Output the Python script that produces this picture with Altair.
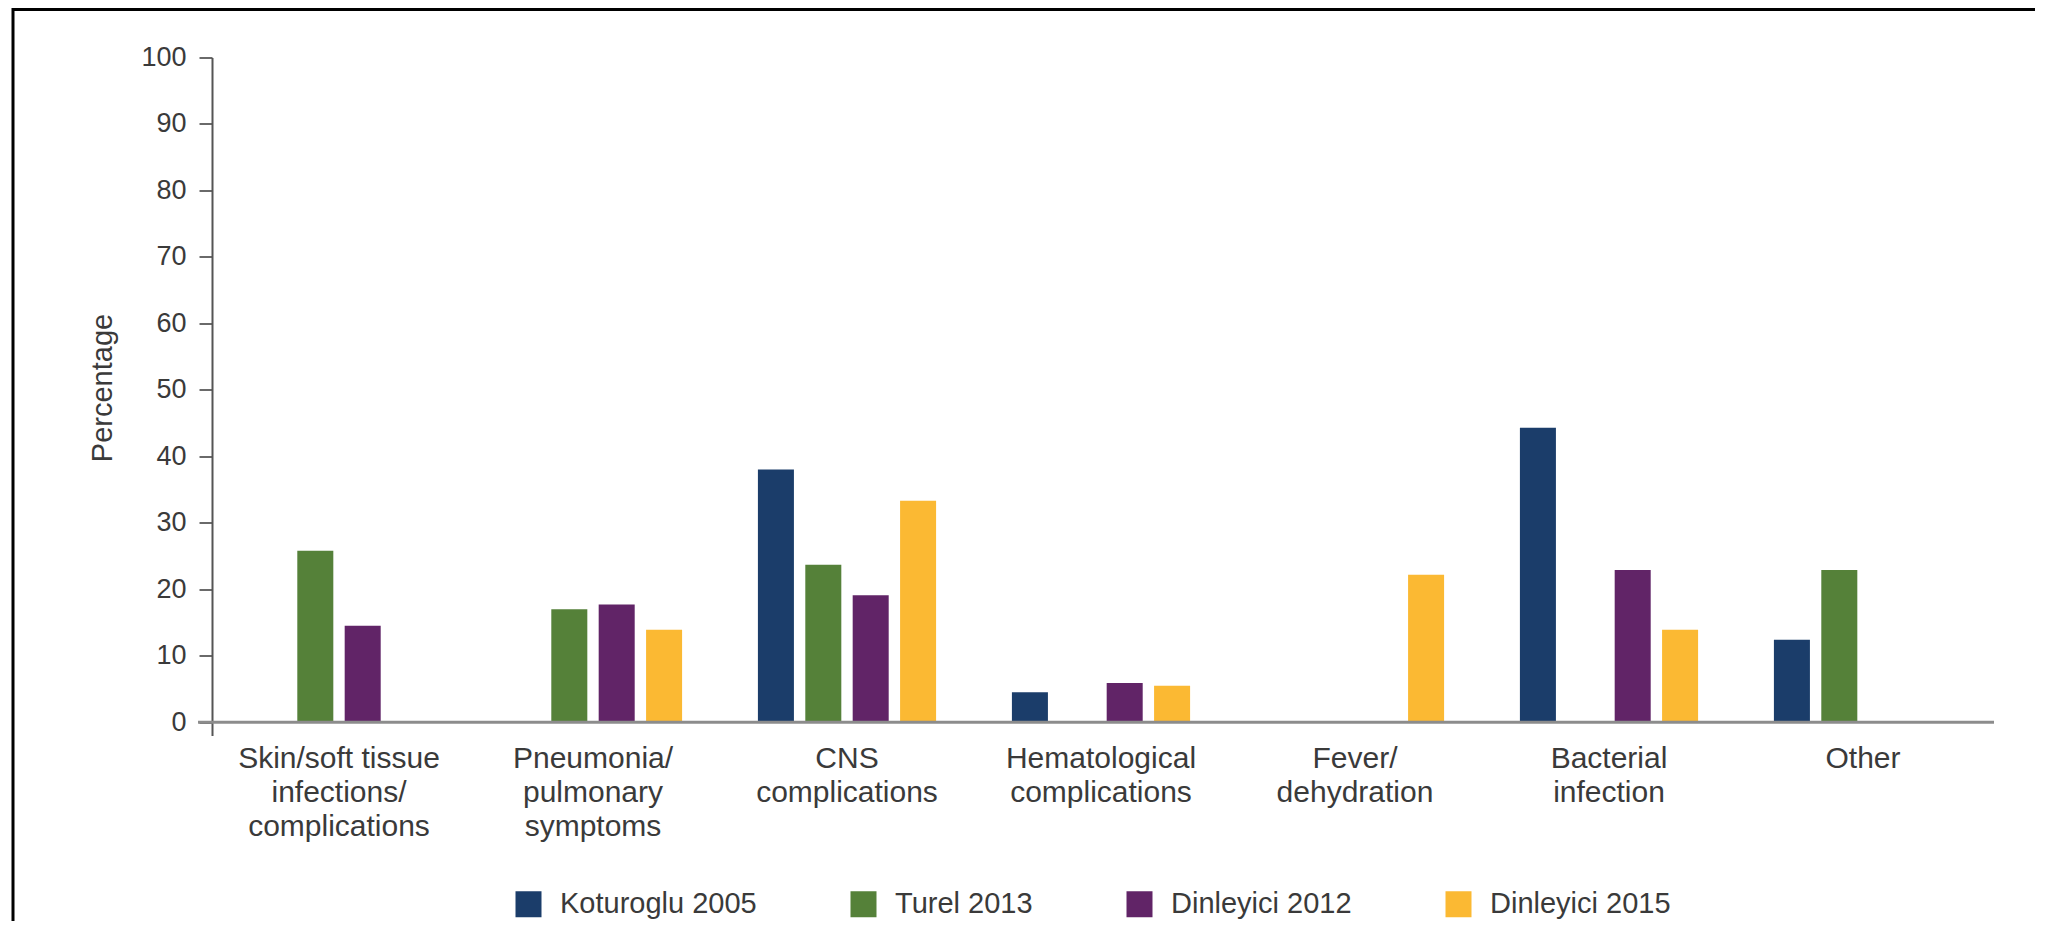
import altair as alt
import pandas as pd

categories = [
    "Skin/soft tissue\ninfections/\ncomplications",
    "Pneumonia/\npulmonary\nsymptoms",
    "CNS\ncomplications",
    "Hematological\ncomplications",
    "Fever/\ndehydration",
    "Bacterial\ninfection",
    "Other",
]
series = ["Koturoglu 2005", "Turel 2013", "Dinleyici 2012", "Dinleyici 2015"]
colors = ["#1b3d6a", "#558139", "#612467", "#fbb933"]

koturoglu_2005 = [None, None, 38.0, 4.5, None, 44.3, 12.4]
turel_2013 = [25.8, 17.0, 23.7, None, None, None, 22.9]
dinleyici_2012 = [14.5, 17.7, 19.1, 5.9, None, 22.9, None]
dinleyici_2015 = [None, 13.9, 33.3, 5.5, 22.2, 13.9, None]

y_ticks = [0, 10, 20, 30, 40, 50, 60, 70, 80, 90, 100]

rows = []
for s, vals in zip(series, [koturoglu_2005, turel_2013, dinleyici_2012, dinleyici_2015]):
    for c, v in zip(categories, vals):
        if v is not None:
            rows.append({"category": c, "series": s, "value": v})
df = pd.DataFrame(rows)

FONT = "Liberation Sans"
TXT = "#3a3a3a"
W, H = 1778, 678

y_axis = alt.Axis(
    title="Percentage",
    values=y_ticks,
    grid=False,
    labelFontSize=27,
    labelColor=TXT,
    labelFont=FONT,
    labelPadding=13,
    tickSize=13,
    tickWidth=2,
    tickColor="#6a6a6a",
    domainColor="#555555",
    domainWidth=2,
    titleFont=FONT,
    titleFontSize=29,
    titleFontWeight="normal",
    titleColor=TXT,
    titleX=-110,
    titleY=330,
    titleAngle=270,
    titleAlign="center",
    titleBaseline="middle",
)
y_scale = alt.Scale(domain=[-2, 100], nice=False)

bars = alt.Chart(df).mark_bar().encode(
    x=alt.X(
        "category:N",
        sort=categories,
        scale=alt.Scale(paddingInner=0, paddingOuter=0),
        axis=alt.Axis(
            title=None,
            labelAngle=0,
            labelExpr="split(datum.label, '\\n')",
            labelFontSize=30,
            labelLineHeight=34,
            labelBaseline="top",
            labelPadding=8,
            labelLimit=0,
            labelColor=TXT,
            labelFont=FONT,
            ticks=False,
            domain=False,
        ),
    ),
    xOffset=alt.XOffset(
        "series:N", sort=series, scale=alt.Scale(paddingInner=0.24, paddingOuter=0.8)
    ),
    y=alt.Y("value:Q", scale=y_scale, axis=y_axis),
    color=alt.Color(
        "series:N",
        sort=series,
        scale=alt.Scale(domain=series, range=colors),
        legend=alt.Legend(
            title=None,
            orient="none",
            direction="horizontal",
            legendX=302,
            legendY=832,
            symbolType="square",
            symbolSize=676,
            symbolStrokeWidth=0,
            labelFontSize=29,
            labelFont=FONT,
            labelColor=TXT,
            labelOffset=17,
            columnPadding=92,
            labelLimit=0,
        ),
    ),
)

axis_line = alt.Chart(pd.DataFrame({"value": [0]})).mark_rule(
    color="#8c8c8c", strokeWidth=3
).encode(
    y=alt.Y("value:Q", scale=y_scale, axis=y_axis),
    x=alt.value(-14),
    x2=alt.value(W + 4),
)

frame = alt.Chart(pd.DataFrame({"a": [0]})).mark_rect(
    fill="white", fillOpacity=0, stroke="#000000", strokeWidth=3
).encode(
    x=alt.value(-199),
    x2=alt.value(2000),
    y=alt.value(-48),
    y2=alt.value(960),
)

chart = alt.layer(bars, axis_line, frame).properties(
    width=W,
    height=H,
    padding={"left": 204, "top": 49.5, "right": 45, "bottom": 185},
    autosize=alt.AutoSizeParams(type="none"),
    background="white",
).configure_view(strokeOpacity=0, strokeWidth=0)

chart.save("out.html", embed_options={"renderer": "svg", "actions": False})
